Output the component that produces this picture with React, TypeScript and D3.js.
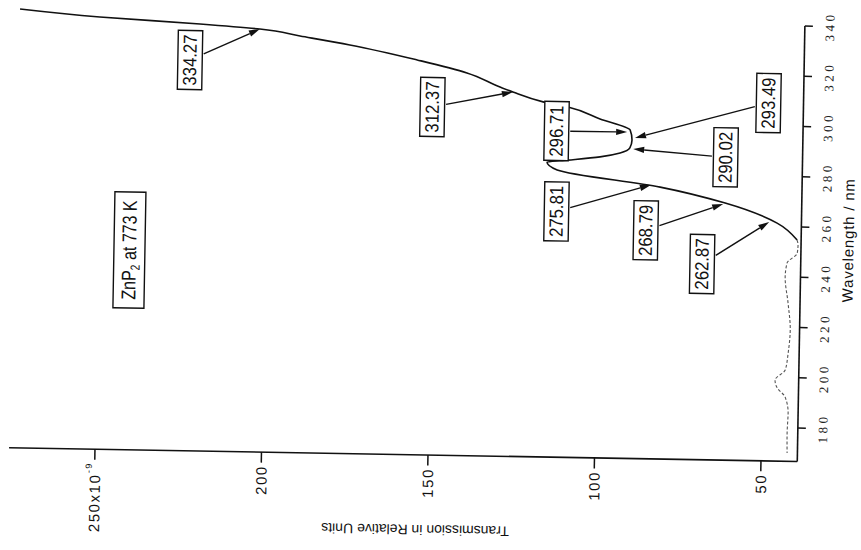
import React from "react";
import * as d3 from "d3";

const W = 861;
const H = 550;

// Spectrum (wavelength in nm, transmission in relative units x10^-9)
const solidWavelength = [341.3, 338.7, 336.6, 335.0, 332.5, 329.3, 323.8, 319.0, 313.6, 311.7, 308.0, 306.1, 301.6, 297.4, 293.4, 290.3, 288.2, 286.5, 285.0, 284.1, 281.0, 274.9, 269.0, 261.4, 254.8];
const solidTransmission = [274.8, 250.8, 220.7, 202.7, 190.6, 175.6, 155.3, 140.3, 130.3, 126.4, 117.3, 109.8, 100.1, 91.0, 90.4, 91.0, 93.9, 99.9, 109.5, 115.8, 112.7, 81.7, 62.1, 46.4, 40.3];
const dottedWavelength = [254.8, 252.8, 249.6, 245.6, 240.0, 229.7, 219.0, 209.8, 203.0, 198.9, 195.8, 192.3, 185.9, 177.9, 170.0];
const dottedTransmission = [40.3, 40.0, 40.2, 43.2, 43.7, 42.7, 41.9, 42.4, 43.2, 46.2, 45.5, 43.1, 42.1, 42.3, 42.2];

// Axes
const transmissionTicks = [250, 200, 150, 100, 50];
const transmissionTickLabels = ["250x10", "200", "150", "100", "50"];
const wavelengthTicks = [340, 320, 300, 280, 260, 240, 220, 200, 180];
const transmissionExtent = [275.8, 39.1];
const wavelengthExtent = [166.7, 340];

// Peak annotations
const peakLabels = ["334.27", "312.37", "296.71", "293.49", "290.02", "275.81", "268.79", "262.87"];
const tipWavelength = [335.0, 311.7, 296.6, 294.3, 289.9, 275.7, 268.6, 261.8];
const tipTransmission = [202.7, 126.4, 91.9, 89.5, 90.0, 84.5, 62.7, 48.8];
const boxWavelength = [322.2, 305.2, 296.5, 309.1, 287.2, 264.5, 257.6, 244.6];
const boxTransmission = [223.5, 150.5, 113.1, 49.6, 62.2, 112.7, 85.8, 68.7];

// Sample label
const sampleWavelength = 246.2;
const sampleTransmission = 240.7;

const FONT = "'Liberation Sans', Arial, Helvetica, sans-serif";

export default function App() {
  const x = d3.scaleLinear().domain([250, 50]).range([98.5, 764.6]);
  const y = d3.scaleLinear().domain([340, 180]).range([19.5, 421.6]);

  const line = d3
    .line<[number, number]>()
    .x((d) => x(d[1]))
    .y((d) => y(d[0]))
    .curve(d3.curveMonotoneY);

  const solid = d3.zip(solidWavelength, solidTransmission) as [number, number][];
  const dotted = d3.zip(dottedWavelength, dottedTransmission) as [number, number][];

  const axisY = y(wavelengthExtent[0]);
  const axisX = x(transmissionExtent[1]);

  const hw = 12.2;
  const hh = 29.5;

  const annotations = peakLabels.map((lab, i) => {
    const cx = x(boxTransmission[i]);
    const cy = y(boxWavelength[i]);
    const tx = x(tipTransmission[i]);
    const ty = y(tipWavelength[i]);
    const dx = tx - cx;
    const dy = ty - cy;
    const s = Math.min(hw / Math.max(Math.abs(dx), 1e-6), hh / Math.max(Math.abs(dy), 1e-6));
    const len = Math.hypot(dx, dy);
    const ux = dx / len;
    const uy = dy / len;
    const sx = cx + dx * s + ux * 1.5;
    const sy = cy + dy * s + uy * 1.5;
    const L = 11;
    const w = 3.2;
    const bx = tx - ux * L;
    const by = ty - uy * L;
    const nx = -uy;
    const ny = ux;
    const head = `${tx},${ty} ${bx + nx * w},${by + ny * w} ${bx - nx * w},${by - ny * w}`;
    return { lab, cx, cy, sx, sy, bx, by, head };
  });

  const zx = x(sampleTransmission);
  const zy = y(sampleWavelength);

  return (
    <svg
      width={W}
      height={H}
      viewBox={`0 0 ${W} ${H}`}
      style={{ position: "absolute", left: 0, top: 0, background: "#fff" }}
    >
      <rect x={0} y={0} width={W} height={H} fill="#fff" />
      <g transform="rotate(1 430 250)">
        {/* curve */}
        <path d={line(solid) || ""} fill="none" stroke="#111" strokeWidth={1.6} />
        <path d={line(dotted) || ""} fill="none" stroke="#555" strokeWidth={1.1} strokeDasharray="3 2" />

        {/* bottom axis (transmission) */}
        <line x1={x(transmissionExtent[0])} x2={axisX} y1={axisY} y2={axisY} stroke="#111" strokeWidth={1.6} />
        {transmissionTicks.map((t, i) => (
          <g key={t}>
            <line x1={x(t)} x2={x(t)} y1={axisY} y2={axisY + 10.5} stroke="#111" strokeWidth={1.5} />
            <g transform={`translate(${x(t)},${axisY + 13}) rotate(-90)`}>
              <text
                textAnchor="end"
                dominantBaseline="central"
                fontFamily={FONT}
                fontSize={15}
                letterSpacing={1.6}
                fill="#111"
              >
                {transmissionTickLabels[i]}
                {i === 0 ? (
                  <tspan fontSize={9} dy={-6}>
                    -9
                  </tspan>
                ) : null}
              </text>
            </g>
          </g>
        ))}
        <g transform={`translate(420,${axisY + 75}) rotate(180)`}>
          <text textAnchor="middle" dominantBaseline="central" fontFamily={FONT} fontSize={14} fill="#111">
            Transmission in Relative Units
          </text>
        </g>

        {/* right axis (wavelength) */}
        <line x1={axisX} x2={axisX} y1={y(wavelengthExtent[1])} y2={axisY} stroke="#111" strokeWidth={1.6} />
        {wavelengthTicks.map((w) => (
          <g key={w}>
            <line x1={axisX} x2={axisX + 8} y1={y(w)} y2={y(w)} stroke="#111" strokeWidth={1.5} />
            <g transform={`translate(${axisX + 25},${y(w)}) rotate(-90)`}>
              <text
                textAnchor="middle"
                dominantBaseline="central"
                fontFamily="'Liberation Serif', 'Times New Roman', serif"
                fontSize={13}
                letterSpacing={3.5}
                fill="#222"
              >
                {w}
              </text>
            </g>
          </g>
        ))}
        <g transform={`translate(${axisX + 47},233) rotate(-90)`}>
          <text
            textAnchor="middle"
            dominantBaseline="central"
            fontFamily={FONT}
            fontSize={15}
            letterSpacing={0.8}
            fill="#111"
          >
            Wavelength / nm
          </text>
        </g>

        {/* annotations */}
        {annotations.map((a) => (
          <g key={a.lab}>
            <line x1={a.sx} y1={a.sy} x2={a.bx} y2={a.by} stroke="#111" strokeWidth={1.4} />
            <polygon points={a.head} fill="#111" />
            <rect
              x={a.cx - hw}
              y={a.cy - hh}
              width={hw * 2}
              height={hh * 2}
              fill="#fff"
              stroke="#111"
              strokeWidth={1.4}
            />
            <g transform={`translate(${a.cx},${a.cy}) rotate(-90) scale(0.88,1)`}>
              <text textAnchor="middle" dominantBaseline="central" fontFamily={FONT} fontSize={19} fill="#111">
                {a.lab}
              </text>
            </g>
          </g>
        ))}

        {/* sample label */}
        <rect x={zx - 15.5} y={zy - 58} width={31} height={116} fill="#fff" stroke="#111" strokeWidth={1.4} />
        <g transform={`translate(${zx},${zy}) rotate(-90) scale(0.8,1)`}>
          <text textAnchor="middle" dominantBaseline="central" fontFamily={FONT} fontSize={20} fill="#111">
            ZnP
            <tspan fontSize={13} dy={5}>
              2
            </tspan>
            <tspan dy={-5}> at 773 K</tspan>
          </text>
        </g>
      </g>
    </svg>
  );
}
